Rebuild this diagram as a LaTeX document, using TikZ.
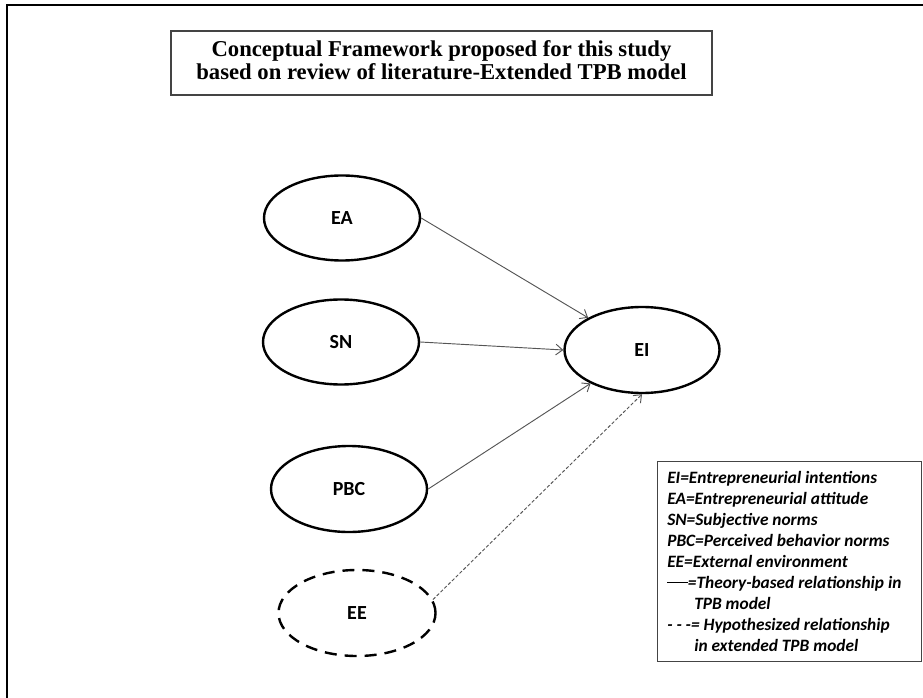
\documentclass[tikz,border=0pt]{standalone}
\usepackage{fontspec}
\setmainfont{Liberation Serif}
\newfontfamily\calib{Carlito}
\usetikzlibrary{arrows.meta,shapes.geometric}
\definecolor{linegray}{HTML}{555555}
\definecolor{boxgray}{HTML}{444444}
\tikzset{
  construct/.style={ellipse, draw=black, line width=1.8pt, inner sep=0pt,
    font=\calib\bfseries\fontsize{15}{18}\selectfont},
  hypo/.style={construct, dash pattern=on 9pt off 6pt},
  theory/.style={draw=linegray, line width=0.7pt, -{Straight Barb[length=5pt,width=8pt]}},
  hypoline/.style={theory, dash pattern=on 2.5pt off 1.5pt},
  titletxt/.style={anchor=base, inner sep=0pt, font=\bfseries\fontsize{17}{20}\selectfont},
  legtxt/.style={anchor=base west, inner sep=0pt, font=\calib\bfseries\itshape\fontsize{13}{15}\selectfont},
}
\begin{document}
\begin{tikzpicture}[x=0.75pt,y=-0.75pt]
\useasboundingbox (0,0) rectangle (923,698);
% outer frame (only top and left edges visible)
\draw[line width=1.5pt, line cap=rect] (7,698) -- (7,5) -- (923,5);
% title box
\node[draw=boxgray, line width=1pt, minimum width=541*0.75pt, minimum height=64*0.75pt, inner sep=0pt] (titlebox) at (441.5,63) {};
\node[titletxt] (title1) at (441.5,57) {Conceptual Framework proposed for this study};
\node[titletxt] (title2) at (441.5,80) {based on review of literature-Extended TPB model};
% constructs
\node[construct, minimum width=156*0.75pt, minimum height=85*0.75pt] (EA) at (342,218) {EA};
\node[construct, minimum width=156*0.75pt, minimum height=85*0.75pt] (SN) at (341,342) {SN};
\node[construct, minimum width=156*0.75pt, minimum height=86*0.75pt] (PBC) at (349,489) {PBC};
\node[hypo, minimum width=157*0.75pt, minimum height=86*0.75pt] (EE) at (357,613) {EE};
\node[construct, minimum width=155*0.75pt, minimum height=86*0.75pt] (EI) at (642,350) {EI};
% connectors
\draw[theory] (EA.east) -- (EI);
\draw[theory] (SN.east) -- (EI.west);
\draw[theory] (PBC.east) -- (EI);
\draw[hypoline] (EE.10) -- (EI.south);
% legend
\node[draw=boxgray, line width=0.8pt, minimum width=264*0.75pt, minimum height=200*0.75pt, inner sep=0pt, anchor=north west] (legbox) at (657,461) {};
\node[legtxt] (leg1) at (667,483) {EI=Entrepreneurial intentions};
\node[legtxt] (leg2) at (667,504) {EA=Entrepreneurial attitude};
\node[legtxt] (leg3) at (667,525) {SN=Subjective norms};
\node[legtxt] (leg4) at (667,546) {PBC=Perceived behavior norms};
\node[legtxt] (leg5) at (667,567) {EE=External environment};
\node[legtxt] (leg6) at (667,588) {\rule[0.27em]{15.5pt}{0.7pt}=Theory-based relationship in};
\node[legtxt] (leg7) at (694,609) {TPB model};
\node[legtxt] (leg8) at (667,630) {- - -= Hypothesized relationship};
\node[legtxt] (leg9) at (694,651) {in extended TPB model};
\end{tikzpicture}
\end{document}
